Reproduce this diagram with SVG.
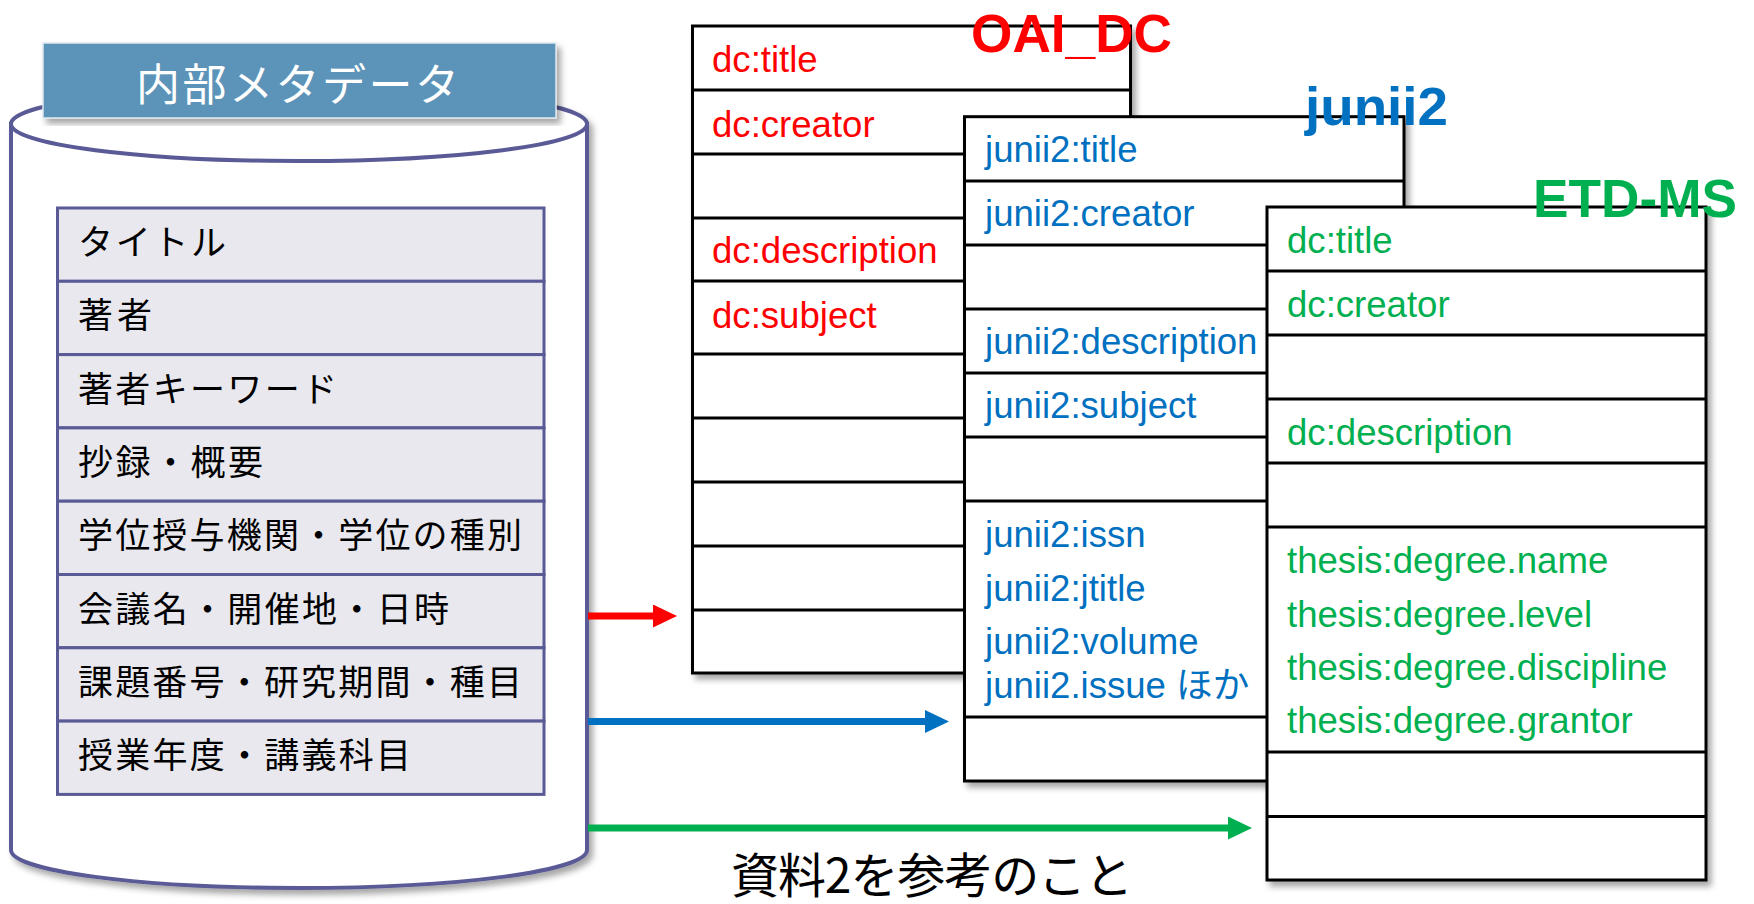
<svg xmlns="http://www.w3.org/2000/svg" width="1754" height="904" viewBox="0 0 1754 904">
<style>
.box{fill:#fff;stroke:#000;stroke-width:3}
.ln{stroke:#000;stroke-width:3}
.cell{fill:#e8e8ee;stroke:#5a5a96;stroke-width:3}
.jp{font-family:"Noto Sans CJK JP",sans-serif;font-size:35px;fill:#000}
.lat{font-family:"Liberation Sans","Noto Sans CJK JP",sans-serif;font-size:36.6px}
.red{fill:#ff0000}.blue{fill:#0070c0}.green{fill:#00b050}
.ttl{font-family:"Liberation Sans",sans-serif;font-weight:bold;font-size:54px}
</style>
<defs>
<filter id="sh" x="-10%" y="-10%" width="120%" height="120%">
<feDropShadow dx="4" dy="5" stdDeviation="3" flood-color="#000" flood-opacity="0.35"/>
</filter>
<marker id="ar" markerUnits="userSpaceOnUse" markerWidth="24" markerHeight="23" viewBox="0 0 24 23" refX="0" refY="11.5" orient="auto"><path d="M0,0 L24,11.5 L0,23 Z" fill="#ff0000"/></marker>
<marker id="ab" markerUnits="userSpaceOnUse" markerWidth="24" markerHeight="23" viewBox="0 0 24 23" refX="0" refY="11.5" orient="auto"><path d="M0,0 L24,11.5 L0,23 Z" fill="#0070c0"/></marker>
<marker id="ag" markerUnits="userSpaceOnUse" markerWidth="24" markerHeight="23" viewBox="0 0 24 23" refX="0" refY="11.5" orient="auto"><path d="M0,0 L24,11.5 L0,23 Z" fill="#00b050"/></marker>
</defs>
<rect width="1754" height="904" fill="#fff"/>

<g id="internal-metadata">
<g filter="url(#sh)">
<path d="M11,124 L11,850 A288,38 0 0 0 587,850 L587,124 Z" fill="#fff" stroke="#5a5a96" stroke-width="4"/>
<ellipse cx="299" cy="124" rx="288" ry="37" fill="#fff" stroke="#5a5a96" stroke-width="4"/>
</g>
<rect x="43" y="43" width="513" height="75" fill="#5b93b8" stroke="#dfe8ef" stroke-width="1.5" filter="url(#sh)"/>
<text x="136" y="101" font-family="'Noto Sans CJK JP',sans-serif" font-size="44" fill="#fff" textLength="323">内部メタデータ</text>
<g>
<rect class="cell" x="57.5" y="208" width="486.5" height="73.3"/>
<rect class="cell" x="57.5" y="281.3" width="486.5" height="73.3"/>
<rect class="cell" x="57.5" y="354.6" width="486.5" height="73.3"/>
<rect class="cell" x="57.5" y="427.9" width="486.5" height="73.3"/>
<rect class="cell" x="57.5" y="501.2" width="486.5" height="73.3"/>
<rect class="cell" x="57.5" y="574.5" width="486.5" height="73.3"/>
<rect class="cell" x="57.5" y="647.8" width="486.5" height="73.3"/>
<rect class="cell" x="57.5" y="721.1" width="486.5" height="73.3"/>
<text class="jp" x="78" y="255" textLength="148">タイトル</text>
<text class="jp" x="78" y="328.3" textLength="74">著者</text>
<text class="jp" x="78" y="401.6" textLength="259">著者キーワード</text>
<text class="jp" x="78" y="474.9" textLength="185">抄録・概要</text>
<text class="jp" x="78" y="548.2" textLength="444">学位授与機関・学位の種別</text>
<text class="jp" x="78" y="621.5" textLength="371">会議名・開催地・日時</text>
<text class="jp" x="78" y="694.8" textLength="444">課題番号・研究期間・種目</text>
<text class="jp" x="78" y="768.1" textLength="333">授業年度・講義科目</text>
</g>
</g>

<g id="connectors">
<line x1="588" y1="616" x2="653" y2="616" stroke="#ff0000" stroke-width="7" marker-end="url(#ar)"/>
<line x1="588" y1="721.5" x2="925" y2="721.5" stroke="#0070c0" stroke-width="7" marker-end="url(#ab)"/>
<line x1="588" y1="828" x2="1228" y2="828" stroke="#00b050" stroke-width="7" marker-end="url(#ag)"/>
</g>

<g id="oai-dc">
<rect class="box" x="692.5" y="26" width="438" height="647" filter="url(#sh)"/>
<line class="ln" x1="692.5" y1="90" x2="1130.5" y2="90"/>
<line class="ln" x1="692.5" y1="154" x2="1130.5" y2="154"/>
<line class="ln" x1="692.5" y1="218" x2="1130.5" y2="218"/>
<line class="ln" x1="692.5" y1="281" x2="1130.5" y2="281"/>
<line class="ln" x1="692.5" y1="354" x2="1130.5" y2="354"/>
<line class="ln" x1="692.5" y1="418" x2="1130.5" y2="418"/>
<line class="ln" x1="692.5" y1="482" x2="1130.5" y2="482"/>
<line class="ln" x1="692.5" y1="546" x2="1130.5" y2="546"/>
<line class="ln" x1="692.5" y1="610" x2="1130.5" y2="610"/>
<text class="lat red" x="712" y="72">dc:title</text>
<text class="lat red" x="712" y="136.5">dc:creator</text>
<text class="lat red" x="712" y="263">dc:description</text>
<text class="lat red" x="712" y="328">dc:subject</text>
<text class="ttl red" x="971" y="52" textLength="201" lengthAdjust="spacingAndGlyphs">OAI_DC</text>
</g>

<g id="junii2">
<rect class="box" x="964.5" y="116.7" width="439.5" height="664.3" filter="url(#sh)"/>
<line class="ln" x1="964.5" y1="181" x2="1404" y2="181"/>
<line class="ln" x1="964.5" y1="245" x2="1404" y2="245"/>
<line class="ln" x1="964.5" y1="309" x2="1404" y2="309"/>
<line class="ln" x1="964.5" y1="373" x2="1404" y2="373"/>
<line class="ln" x1="964.5" y1="437" x2="1404" y2="437"/>
<line class="ln" x1="964.5" y1="501" x2="1404" y2="501"/>
<line class="ln" x1="964.5" y1="717" x2="1404" y2="717"/>
<text class="lat blue" x="985" y="161.5">junii2:title</text>
<text class="lat blue" x="985" y="226">junii2:creator</text>
<text class="lat blue" x="985" y="354">junii2:description</text>
<text class="lat blue" x="985" y="418">junii2:subject</text>
<text class="lat blue" x="985" y="546.5">junii2:issn</text>
<text class="lat blue" x="985" y="600.5">junii2:jtitle</text>
<text class="lat blue" x="985" y="654">junii2:volume</text>
<text class="lat blue" x="985" y="698">junii2.issue ほか</text>
<text class="ttl blue" x="1305" y="125" textLength="143" lengthAdjust="spacingAndGlyphs">junii2</text>
</g>

<g id="etd-ms">
<rect class="box" x="1267" y="207" width="439" height="673" filter="url(#sh)"/>
<line class="ln" x1="1267" y1="271" x2="1706" y2="271"/>
<line class="ln" x1="1267" y1="335" x2="1706" y2="335"/>
<line class="ln" x1="1267" y1="399" x2="1706" y2="399"/>
<line class="ln" x1="1267" y1="463" x2="1706" y2="463"/>
<line class="ln" x1="1267" y1="527" x2="1706" y2="527"/>
<line class="ln" x1="1267" y1="752" x2="1706" y2="752"/>
<line class="ln" x1="1267" y1="816.5" x2="1706" y2="816.5"/>
<text class="lat green" x="1287" y="253">dc:title</text>
<text class="lat green" x="1287" y="317">dc:creator</text>
<text class="lat green" x="1287" y="445">dc:description</text>
<text class="lat green" x="1287" y="573">thesis:degree.name</text>
<text class="lat green" x="1287" y="626.5">thesis:degree.level</text>
<text class="lat green" x="1287" y="680">thesis:degree.discipline</text>
<text class="lat green" x="1287" y="733">thesis:degree.grantor</text>
<text class="ttl green" x="1533" y="217" textLength="204" lengthAdjust="spacingAndGlyphs">ETD-MS</text>
</g>

<g id="note">
<text x="731" y="893" font-family="'Noto Sans CJK JP',sans-serif" font-size="48" fill="#000" textLength="402">資料2を参考のこと</text>
</g>
</svg>
